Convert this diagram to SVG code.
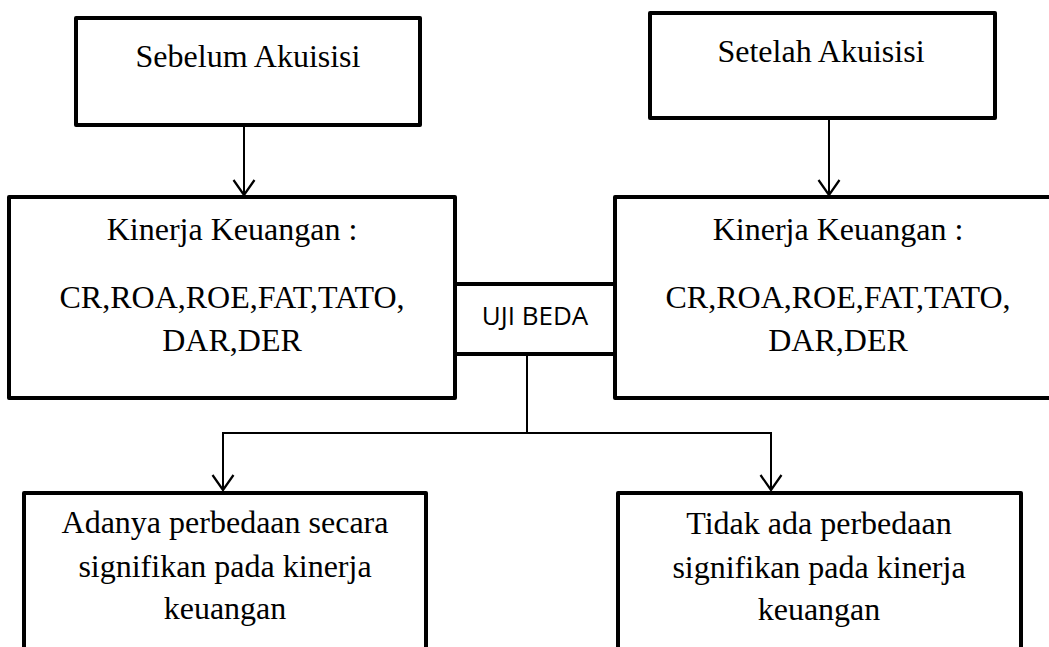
<svg xmlns="http://www.w3.org/2000/svg" width="1049" height="647" viewBox="0 0 1049 647">
<style>
.box{fill:#fff;stroke:#000;stroke-width:4;stroke-linejoin:round}
.t{font-family:"Liberation Serif","Times New Roman",serif;font-size:32px;fill:#000;text-anchor:middle}
.s{font-family:"Open Sans","Liberation Sans",sans-serif;font-size:26px;fill:#000;text-anchor:middle}
.ln{fill:none;stroke:#000;stroke-width:2}
.ah{fill:none;stroke:#000;stroke-width:2.2;stroke-linejoin:miter}
</style>
<rect width="1049" height="647" fill="#fff"/>
<g id="sebelum">
<rect class="box" x="76" y="18" width="344" height="107"/>
<text class="t" x="248" y="67">Sebelum Akuisisi</text>
</g>
<g id="setelah">
<rect class="box" x="650" y="13" width="345" height="105"/>
<text class="t" x="821" y="62">Setelah Akuisisi</text>
</g>
<g id="kinerja-kiri">
<rect class="box" x="9" y="197" width="446" height="201"/>
<text class="t" x="232" y="240">Kinerja Keuangan :</text>
<text class="t" x="232" y="308">CR,ROA,ROE,FAT,TATO,</text>
<text class="t" x="232" y="351">DAR,DER</text>
</g>
<g id="kinerja-kanan">
<rect class="box" x="615" y="197" width="460" height="201"/>
<text class="t" x="838" y="240">Kinerja Keuangan :</text>
<text class="t" x="838" y="308">CR,ROA,ROE,FAT,TATO,</text>
<text class="t" x="838" y="351">DAR,DER</text>
</g>
<g id="uji-beda">
<rect class="box" x="455" y="284" width="160" height="70"/>
<text class="s" x="535" y="325">UJI BEDA</text>
</g>
<g id="adanya">
<rect class="box" x="24" y="493" width="402" height="180"/>
<text class="t" x="225" y="533">Adanya perbedaan secara</text>
<text class="t" x="225" y="577">signifikan pada kinerja</text>
<text class="t" x="225" y="619">keuangan</text>
</g>
<g id="tidak">
<rect class="box" x="618" y="493" width="403" height="180"/>
<text class="t" x="819" y="534">Tidak ada perbedaan</text>
<text class="t" x="819" y="578">signifikan pada kinerja</text>
<text class="t" x="819" y="620">keuangan</text>
</g>
<g id="connectors">
<line class="ln" x1="244" y1="125" x2="244" y2="195"/>
<polyline class="ah" points="233.5,180 244,195 254.5,180"/>
<line class="ln" x1="829" y1="118" x2="829" y2="195"/>
<polyline class="ah" points="818.5,180 829,195 839.5,180"/>
<line class="ln" x1="527" y1="354" x2="527" y2="433"/>
<polyline class="ln" points="223,490 223,433 771,433 771,490"/>
<polyline class="ah" points="212.5,475 223,490 233.5,475"/>
<polyline class="ah" points="760.5,475 771,490 781.5,475"/>
</g>
</svg>
